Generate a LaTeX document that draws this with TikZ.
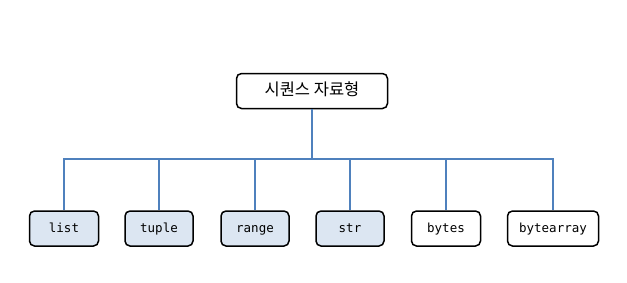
\documentclass[tikz,border=0pt]{standalone}
\usepackage{fontspec}
\setmonofont{DejaVu Sans Mono}
\newfontfamily\krfont{Noto Sans CJK KR}
\definecolor{linkblue}{HTML}{4F81BD}
\definecolor{boxfill}{HTML}{DCE6F2}
\begin{document}
\begin{tikzpicture}[x=1pt,y=-1pt,
  box/.style={draw=black, line width=1.5pt, rounded corners=5pt, minimum height=35pt, inner sep=0pt, text height=9pt, text depth=2pt, font=\ttfamily\fontsize{12.5}{14}\selectfont},
  seqbox/.style={box, fill=boxfill},
  plainbox/.style={box, fill=white},
  link/.style={draw=linkblue, line width=1.8pt}]
\useasboundingbox (0,0) rectangle (627,282);
\node[plainbox, minimum width=151pt, text height=12pt, text depth=3pt, font=\krfont\fontsize{16.5}{18}\selectfont] (root) at (312,91) {시퀀스 자료형};
\node[seqbox, minimum width=69pt] (list) at (64,228.5) {list};
\node[seqbox, minimum width=68pt] (tuple) at (159,228.5) {tuple};
\node[seqbox, minimum width=68pt] (range) at (255,228.5) {range};
\node[seqbox, minimum width=68pt] (str) at (350,228.5) {str};
\node[plainbox, minimum width=69pt] (bytes) at (446,228.5) {bytes};
\node[plainbox, minimum width=91pt] (bytearray) at (553,228.5) {bytearray};
\coordinate (bus) at (312,159);
\draw[link] (root.south) -- (bus);
\foreach \n in {list,tuple,range,str,bytes,bytearray}
  \draw[link] (bus -| \n.north) -- (\n.north);
\draw[link, line cap=rect] (bus -| list.north) -- (bus -| bytearray.north);
\end{tikzpicture}
\end{document}
